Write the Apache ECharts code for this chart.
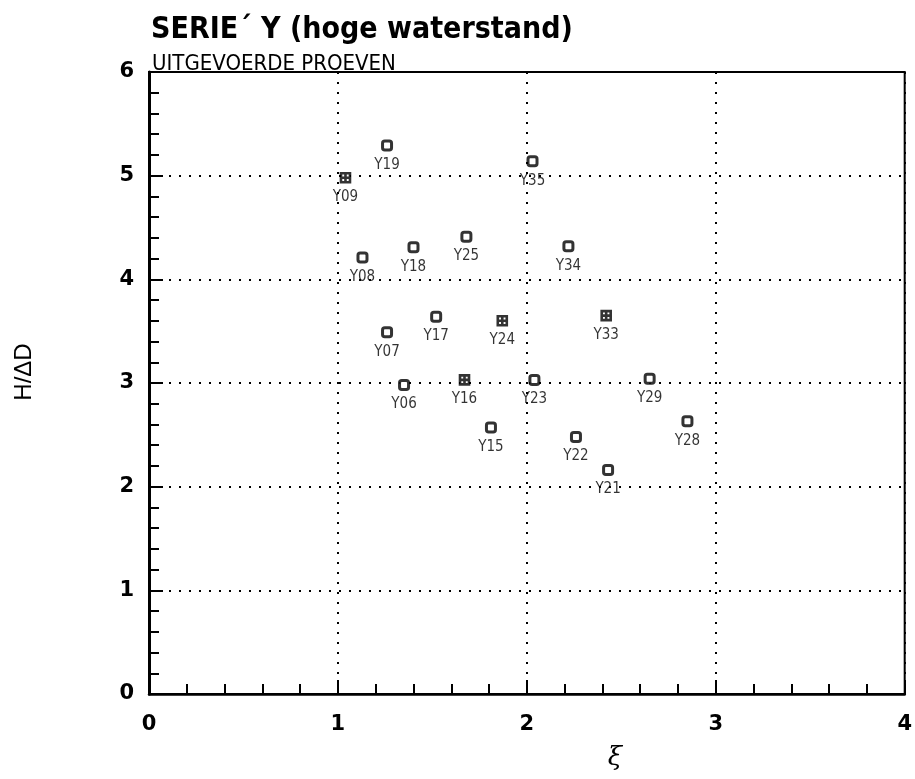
<!DOCTYPE html>
<html>
<head>
<meta charset="utf-8">
<script src="https://cdn.jsdelivr.net/npm/echarts@6/dist/echarts.min.js"></script>
<style>html,body{margin:0;padding:0;background:#fff;}#c{width:915px;height:779px;}</style>
</head>
<body>
<div id="c"></div>
<script>
// Open-square test points
const openNames = ['Y19','Y35','Y25','Y18','Y08','Y34','Y17','Y07','Y06','Y23','Y15','Y22','Y29','Y28','Y21'];
const openX     = [1.26, 2.03, 1.68, 1.40, 1.13, 2.22, 1.52, 1.26, 1.35, 2.04, 1.81, 2.26, 2.65, 2.85, 2.43];
const openY     = [5.29, 5.14, 4.41, 4.31, 4.21, 4.32, 3.64, 3.49, 2.98, 3.03, 2.57, 2.48, 3.04, 2.63, 2.16];
// Crossed-square test points
const crossNames = ['Y09','Y24','Y16','Y33'];
const crossX     = [1.04, 1.87, 1.67, 2.42];
const crossY     = [4.98, 3.60, 3.03, 3.65];
// Axis tick labels
const xTicks = [0, 1, 2, 3, 4];
const yTicks = [0, 1, 2, 3, 4, 5, 6];

const NARROW = '"Liberation Sans Narrow","DejaVu Sans Condensed","Liberation Sans",sans-serif';

function pts(names, xs, ys) {
  return names.map((n, i) => ({ name: n, value: [xs[i], ys[i]] }));
}

const chart = echarts.init(document.getElementById('c'), null, { renderer: 'canvas' });
const dotted = { color: '#000', width: 2, type: [2, 8] };
const labelCfg = {
  show: true, position: 'bottom', distance: 6,
  formatter: p => p.name, color: '#000',
  fontFamily: NARROW, fontSize: 15
};
chart.setOption({
  animation: false,
  backgroundColor: '#fff',
  title: [
    { text: 'SERIE\u00B4 Y (hoge waterstand)', left: 146, top: 10,
      textStyle: { fontFamily: NARROW, fontSize: 30, fontWeight: 'bold', color: '#000' } },
    { text: 'UITGEVOERDE PROEVEN', left: 147, top: 48,
      textStyle: { fontFamily: NARROW, fontSize: 22, fontWeight: 'normal', color: '#000' } }
  ],
  grid: { left: 149, top: 72, width: 759, height: 622, show: true,
          borderColor: '#000', borderWidth: 2, backgroundColor: 'transparent' },
  xAxis: {
    type: 'value', min: xTicks[0], max: xTicks[xTicks.length - 1], interval: 1,
    axisLine: { show: true, lineStyle: { color: '#000', width: 2.5 } },
    axisTick: { show: true, inside: true, length: 14, lineStyle: { color: '#000', width: 2 } },
    minorTick: { show: true, splitNumber: 5, length: 10, lineStyle: { color: '#000', width: 2 } },
    splitLine: { show: true, lineStyle: dotted },
    axisLabel: { margin: 20, color: '#000', fontSize: 21, fontWeight: 'bold',
                 fontFamily: '"DejaVu Sans",sans-serif',
                 formatter: v => xTicks.includes(v) ? String(v) : '' }
  },
  yAxis: {
    type: 'value', min: yTicks[0], max: yTicks[yTicks.length - 1], interval: 1,
    axisLine: { show: true, lineStyle: { color: '#000', width: 3 } },
    axisTick: { show: true, inside: true, length: 14, lineStyle: { color: '#000', width: 2 } },
    minorTick: { show: true, splitNumber: 5, length: 10, lineStyle: { color: '#000', width: 2 } },
    splitLine: { show: true, lineStyle: dotted },
    axisLabel: { margin: 15, color: '#000', fontSize: 21, fontWeight: 'bold',
                 fontFamily: '"DejaVu Sans",sans-serif',
                 formatter: v => yTicks.includes(v) ? String(v) : '' }
  },
  graphic: [
    { type: 'text', x: 24, y: 372, rotation: Math.PI / 2,
      style: { text: 'H/\u0394D', fill: '#000', font: '24px "Liberation Sans",sans-serif',
               textAlign: 'center', textVerticalAlign: 'middle' } },
    { type: 'text', x: 615, y: 758,
      style: { text: '\u03BE', fill: '#000', font: 'italic 26px "DejaVu Serif",serif',
               textAlign: 'center', textVerticalAlign: 'middle' } }
  ],
  series: [
    { type: 'scatter', name: 'open', data: pts(openNames, openX, openY),
      symbol: 'roundRect', symbolSize: 9,
      itemStyle: { color: '#fff', borderColor: '#000', borderWidth: 3 },
      label: labelCfg, z: 5 },
    { type: 'scatter', name: 'crossed', data: pts(crossNames, crossX, crossY),
      symbol: 'path://M0,0H10V10H0Z M5,0V10 M0,5H10', symbolSize: 9, symbolKeepAspect: true,
      itemStyle: { color: '#fff', borderColor: '#000', borderWidth: 2.6 },
      label: labelCfg, z: 5 }
  ]
});
</script>
</body>
</html>
